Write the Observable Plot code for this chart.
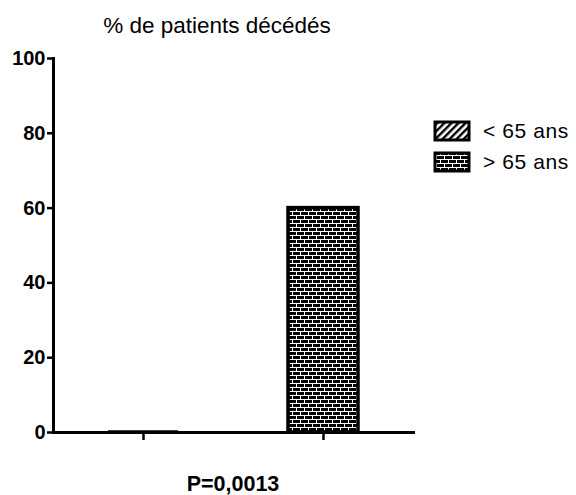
<!DOCTYPE html>
<html>
<head>
<meta charset="utf-8">
<script src="https://cdn.jsdelivr.net/npm/d3@7"></script>
<script src="https://cdn.jsdelivr.net/npm/@observablehq/plot@0.6"></script>
<style>
  html, body { margin: 0; padding: 0; background: #fff; }
  #wrap { position: relative; width: 576px; height: 495px; }
  #overlay { position: absolute; left: 0; top: 0; pointer-events: none; }
</style>
</head>
<body>
<div id="wrap"></div>
<script>
const groups = ["< 65 ans", "> 65 ans"];
const values = [0, 60];
const patterns = ["url(#hatch)", "url(#brick)"];
const yTicks = [0, 20, 40, 60, 80, 100];
const title = "% de patients décédés";
const caption = "P=0,0013";

const data = groups.map((g, i) => ({group: g, value: values[i], pattern: patterns[i]}));

const FONT = "'Liberation Sans', Arial, Helvetica, sans-serif";

function patternDefs() {
  const defs = d3.create("svg:defs");
  const h = defs.append("pattern").attr("id", "hatch").attr("patternUnits", "userSpaceOnUse")
    .attr("width", 5).attr("height", 5).attr("patternTransform", "rotate(45)");
  h.append("rect").attr("width", 5).attr("height", 5).attr("fill", "white");
  h.append("rect").attr("x", 0).attr("width", 2.2).attr("height", 5).attr("fill", "black");
  const b = defs.append("pattern").attr("id", "brick").attr("patternUnits", "userSpaceOnUse")
    .attr("width", 16).attr("height", 8);
  b.append("rect").attr("width", 16).attr("height", 8).attr("fill", "black");
  [[0,3,16,1],[0,7,16,1],[0,0,1,3],[8,0,1,3],[4,4,1,3],[12,4,1,3]].forEach(([x,y,w,hh]) =>
    b.append("rect").attr("x", x).attr("y", y).attr("width", w).attr("height", hh).attr("fill", "white"));
  return defs.node();
}

const chart = Plot.plot({
  width: 576,
  height: 495,
  marginTop: 58,
  marginBottom: 63,
  marginLeft: 53,
  marginRight: 163,
  style: {fontFamily: FONT, fontSize: "20px", fontWeight: "bold", color: "black", background: "white"},
  x: {domain: groups, padding: 0, axis: null},
  y: {domain: [0, 100], axis: null},
  marks: [
    patternDefs,
    Plot.barY(data.filter(d => d.value > 0), {
      x: "group", y: "value", fill: patterns[1], stroke: "black", strokeWidth: 3.5,
      insetLeft: 55, insetRight: 55
    }),
    Plot.tickY(data.filter(d => d.value === 0), {x: "group", y: "value", stroke: "black", strokeWidth: 1.5, dy: -1.5, insetLeft: 55, insetRight: 55}),
    Plot.axisY({ticks: yTicks, tickSize: 6, tickPadding: 2, strokeWidth: 2.5, fontSize: 20, fontWeight: "bold", label: null}),
    Plot.axisX({tickSize: 8, tickFormat: () => "", strokeWidth: 2.5, label: null}),
    Plot.frame({anchor: "left", stroke: "black", strokeWidth: 3}),
    Plot.frame({anchor: "bottom", stroke: "black", strokeWidth: 3})
  ]
});

const wrap = document.getElementById("wrap");
wrap.appendChild(chart);

// Overlay: title, caption, legend (real text)
const ov = d3.select(wrap).append("svg").attr("id", "overlay")
  .attr("width", 576).attr("height", 495).style("font-family", FONT);
const od = ov.append("defs");
const h2 = od.append("pattern").attr("id", "hatchL").attr("patternUnits", "userSpaceOnUse")
  .attr("width", 5).attr("height", 5).attr("patternTransform", "rotate(45)");
h2.append("rect").attr("width", 5).attr("height", 5).attr("fill", "white");
h2.append("rect").attr("width", 2.4).attr("height", 5).attr("fill", "black");
const b2 = od.append("pattern").attr("id", "brickL").attr("patternUnits", "userSpaceOnUse")
  .attr("width", 16).attr("height", 8);
b2.append("rect").attr("width", 16).attr("height", 8).attr("fill", "black");
[[0,3,16,1],[0,7,16,1],[0,0,1,3],[8,0,1,3],[4,4,1,3],[12,4,1,3]].forEach(([x,y,w,hh]) =>
  b2.append("rect").attr("x", x).attr("y", y).attr("width", w).attr("height", hh).attr("fill", "white"));

ov.append("text").attr("x", 217).attr("y", 33).attr("text-anchor", "middle")
  .style("font-size", "22.5px").text(title);
ov.append("text").attr("x", 233).attr("y", 491).attr("text-anchor", "middle")
  .style("font-size", "21.5px").style("font-weight", "bold").text(caption);

const legendPatterns = ["url(#hatchL)", "url(#brickL)"];
groups.forEach((g, i) => {
  const y0 = 122 + i * 31;
  ov.append("rect").attr("x", 435).attr("y", y0).attr("width", 34).attr("height", 18)
    .attr("fill", legendPatterns[i]).attr("stroke", "black").attr("stroke-width", 3);
  ov.append("text").attr("x", 483).attr("y", y0 + 16).style("font-size", "21px")
    .style("letter-spacing", "0.6px").text(g);
});
</script>
</body>
</html>
